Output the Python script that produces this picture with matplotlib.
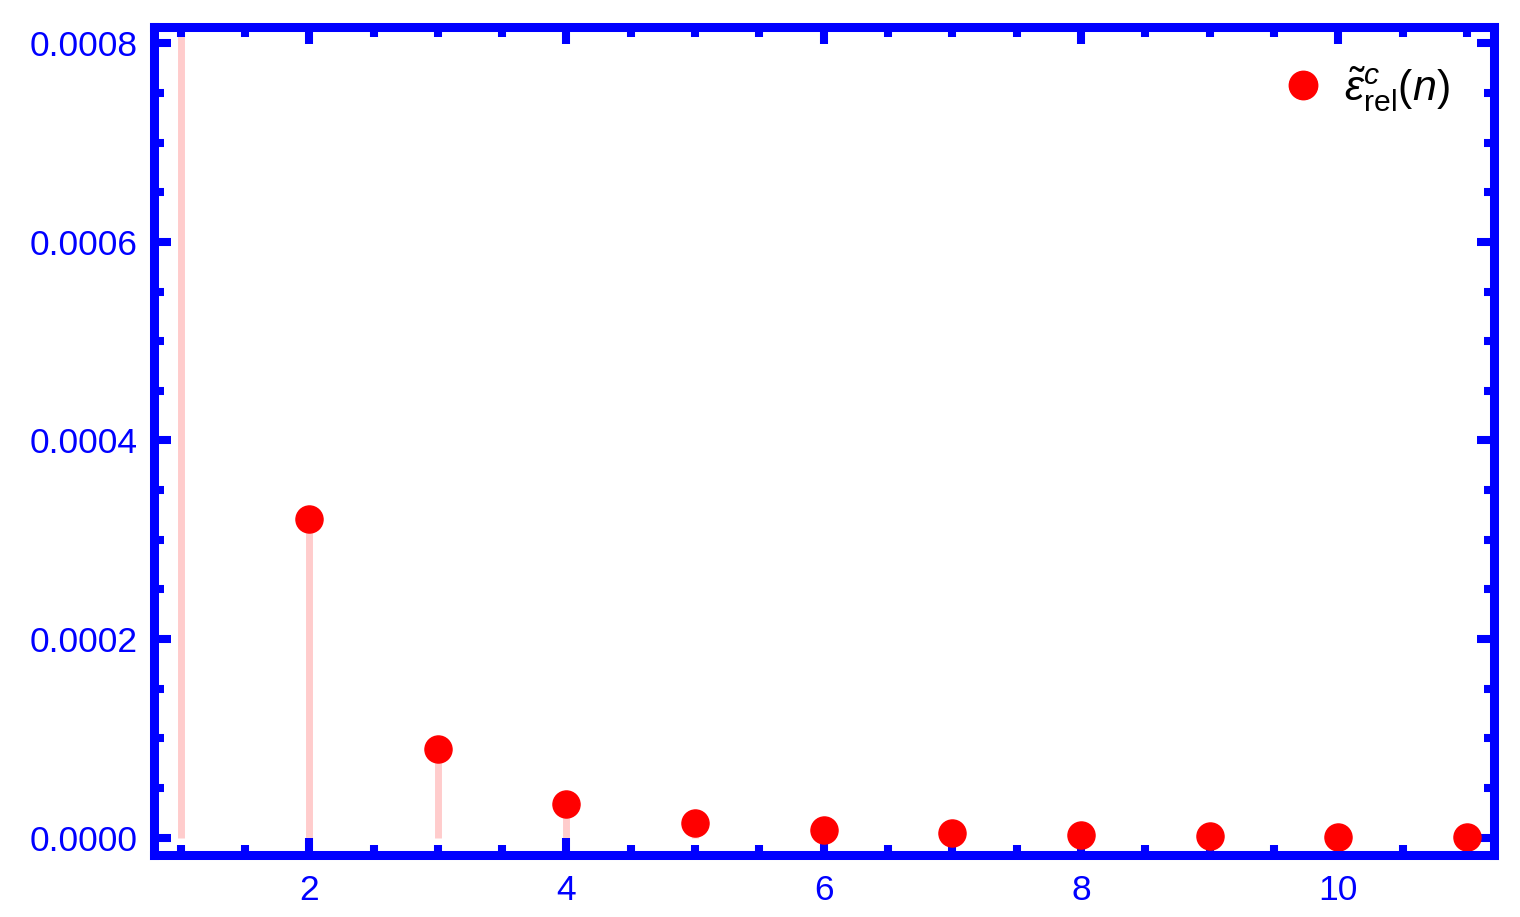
import matplotlib
matplotlib.use('Agg')
import matplotlib.pyplot as plt
from matplotlib.ticker import MultipleLocator, FormatStrFormatter

plt.rcParams['font.family'] = ['Liberation Sans', 'DejaVu Sans']
plt.rcParams['mathtext.fontset'] = 'custom'
plt.rcParams['mathtext.rm'] = 'Liberation Sans'
plt.rcParams['mathtext.it'] = 'Liberation Sans:italic'

# relative error vs n (n=1 is off scale)
n = [1, 2, 3, 4, 5, 6, 7, 8, 9, 10, 11]
eps_rel = [0.0025, 0.000321, 0.0000892, 0.0000338, 0.0000150, 0.0000078,
           0.0000046, 0.0000027, 0.0000016, 0.0000010, 0.0000006]

blue = '#0000ff'
fig = plt.figure(figsize=(15.2, 9.17), dpi=100)
ax = fig.add_axes([0.101, 0.0671, 0.8819, 0.904])

ax.vlines(n, 0, eps_rel, colors='#ffcccc', linewidth=5, zorder=1)
ax.plot(n, eps_rel, 'o', color='#ff0000', markersize=19.5, linestyle='none',
        zorder=3, label=r'$\tilde{\varepsilon}^{c}_{\mathrm{rel}}(n)$')

ax.set_xlim(0.79, 11.21)
ax.set_ylim(-0.0000181, 0.000817)

ax.xaxis.set_major_locator(MultipleLocator(2))
ax.xaxis.set_minor_locator(MultipleLocator(0.5))
ax.yaxis.set_major_locator(MultipleLocator(0.0002))
ax.yaxis.set_minor_locator(MultipleLocator(0.00005))
ax.yaxis.set_major_formatter(FormatStrFormatter('%.4f'))

for sp in ax.spines.values():
    sp.set_color(blue)
    sp.set_linewidth(6.5)
    sp.set_zorder(4)

ax.tick_params(which='both', direction='in', top=True, right=True,
               color=blue, labelcolor=blue, labelsize=25.5, width=5.8)
ax.tick_params(which='major', length=12)
ax.tick_params(which='minor', length=7.2)
ax.tick_params(axis='x', pad=13)
ax.tick_params(axis='y', pad=11.5)

ax.legend(loc='center right', bbox_to_anchor=(0.983, 0.925), frameon=False,
          borderpad=0, handlelength=0.8, handletextpad=0.55, fontsize=31,
          numpoints=1, markerscale=1.05)

fig.savefig('out.png', dpi=100)
